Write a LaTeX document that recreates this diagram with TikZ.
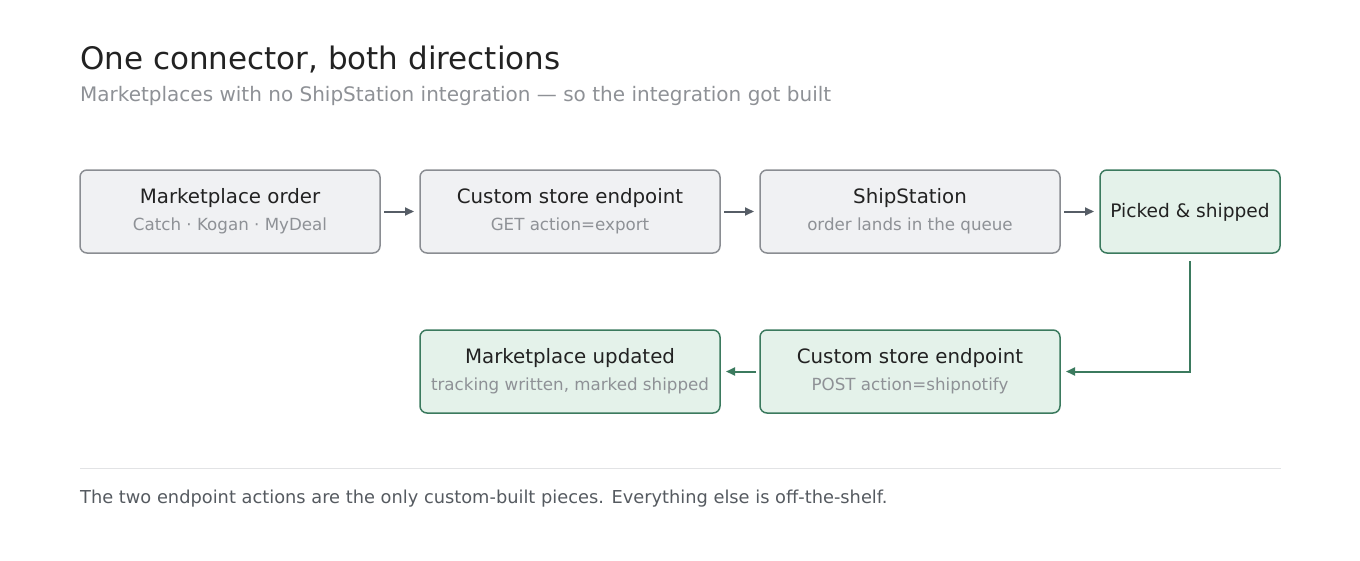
\documentclass[tikz,border=0pt]{standalone}
\usepackage{fontspec}
\setmainfont{DejaVu Sans}
\usetikzlibrary{arrows.meta,positioning,calc}
\definecolor{ink}{HTML}{222222}
\definecolor{muted}{HTML}{8E9196}
\definecolor{greyfill}{HTML}{F0F1F3}
\definecolor{greyline}{HTML}{8A8D92}
\definecolor{greenfill}{HTML}{E4F2EA}
\definecolor{greenline}{HTML}{3B7A5E}
\definecolor{arrowgrey}{HTML}{565D66}
\definecolor{rule}{HTML}{E2E3E5}
\definecolor{footgrey}{HTML}{555A60}

\begin{document}
\begin{tikzpicture}[
		x=1pt, y=1pt,
		>={Triangle[length=9pt,width=8pt]},
		stage/.style={draw=greyline, fill=greyfill, rounded corners=7pt, line width=1.5pt,
			minimum width=300pt, minimum height=83pt, inner sep=0pt, outer sep=0pt},
		donestage/.style={stage, draw=greenline, fill=greenfill},
		ttl/.style={font=\fontsize{19.8}{23}\selectfont, text=ink},
		sub/.style={font=\fontsize{16.7}{19}\selectfont, text=muted},
		flow/.style={->, arrowgrey, line width=2pt},
		backflow/.style={->, greenline, line width=2pt}
		]
		\useasboundingbox (0,0) rectangle (1360,-560);
		
		% --------------------------------------------------
		% Heading
		% --------------------------------------------------
		\node[anchor=base west, inner sep=0pt, font=\fontsize{31}{36}\selectfont, text=ink] (heading) at (80,-69)
		{One connector, both directions};
		\node[anchor=base west, inner sep=0pt, font=\fontsize{20}{24}\selectfont, text=muted] (subheading) at (80,-101)
		{Marketplaces with no ShipStation integration — so the integration got built};
		
		% --------------------------------------------------
		% Top row: order flows in
		% --------------------------------------------------
		\node[stage] (order) at (230,-211.5) {};
		\node[ttl] at ($(order.center)+(0,13)$) {Marketplace order};
		\node[sub] at ($(order.center)+(0,-14)$) {Catch · Kogan · MyDeal};
		
		\node[stage, right=40pt of order] (export) {};
		\node[ttl] at ($(export.center)+(0,13)$) {Custom store endpoint};
		\node[sub] at ($(export.center)+(0,-14)$) {GET action=export};
		
		\node[stage, right=40pt of export] (ship) {};
		\node[ttl] at ($(ship.center)+(0,13)$) {ShipStation};
		\node[sub] at ($(ship.center)+(0,-14)$) {order lands in the queue};
		
		\node[donestage, minimum width=180pt, right=40pt of ship] (picked) {};
		\node[ttl, font=\fontsize{18.6}{22}\selectfont] at ($(picked.center)+(0,-1)$) {Picked \& shipped};
		
		% --------------------------------------------------
		% Bottom row: tracking flows back
		% --------------------------------------------------
		\node[donestage, below=77pt of ship] (notify) {};
		\node[ttl] at ($(notify.center)+(0,13)$) {Custom store endpoint};
		\node[sub] at ($(notify.center)+(0,-14)$) {POST action=shipnotify};
		
		\node[donestage, left=40pt of notify] (updated) {};
		\node[ttl] at ($(updated.center)+(0,13)$) {Marketplace updated};
		\node[sub] at ($(updated.center)+(0,-14)$) {tracking written, marked shipped};
		
		% arrows
		\draw[flow] ([xshift=4pt]order.east) -- ([xshift=-6pt]export.west);
		\draw[flow] ([xshift=4pt]export.east) -- ([xshift=-6pt]ship.west);
		\draw[flow] ([xshift=4pt]ship.east) -- ([xshift=-6pt]picked.west);
		\draw[backflow] ([yshift=-8pt]picked.south) |- ([xshift=6pt]notify.east);
		\draw[backflow] ([xshift=-4pt]notify.west) -- ([xshift=6pt]updated.east);
		
		% --------------------------------------------------
		% Footer
		% --------------------------------------------------
		\coordinate (ruleL) at (80,-468);
		\coordinate (ruleR) at (1281,-468);
		\draw[rule, line width=1pt] (ruleL) -- (ruleR);
		\node[anchor=base west, inner sep=0pt, font=\fontsize{17.8}{21}\selectfont, text=footgrey] (footer) at (80,-503)
		{The two endpoint actions are the only custom-built pieces. Everything else is off-the-shelf.};
		
	\end{tikzpicture}
\end{document}
